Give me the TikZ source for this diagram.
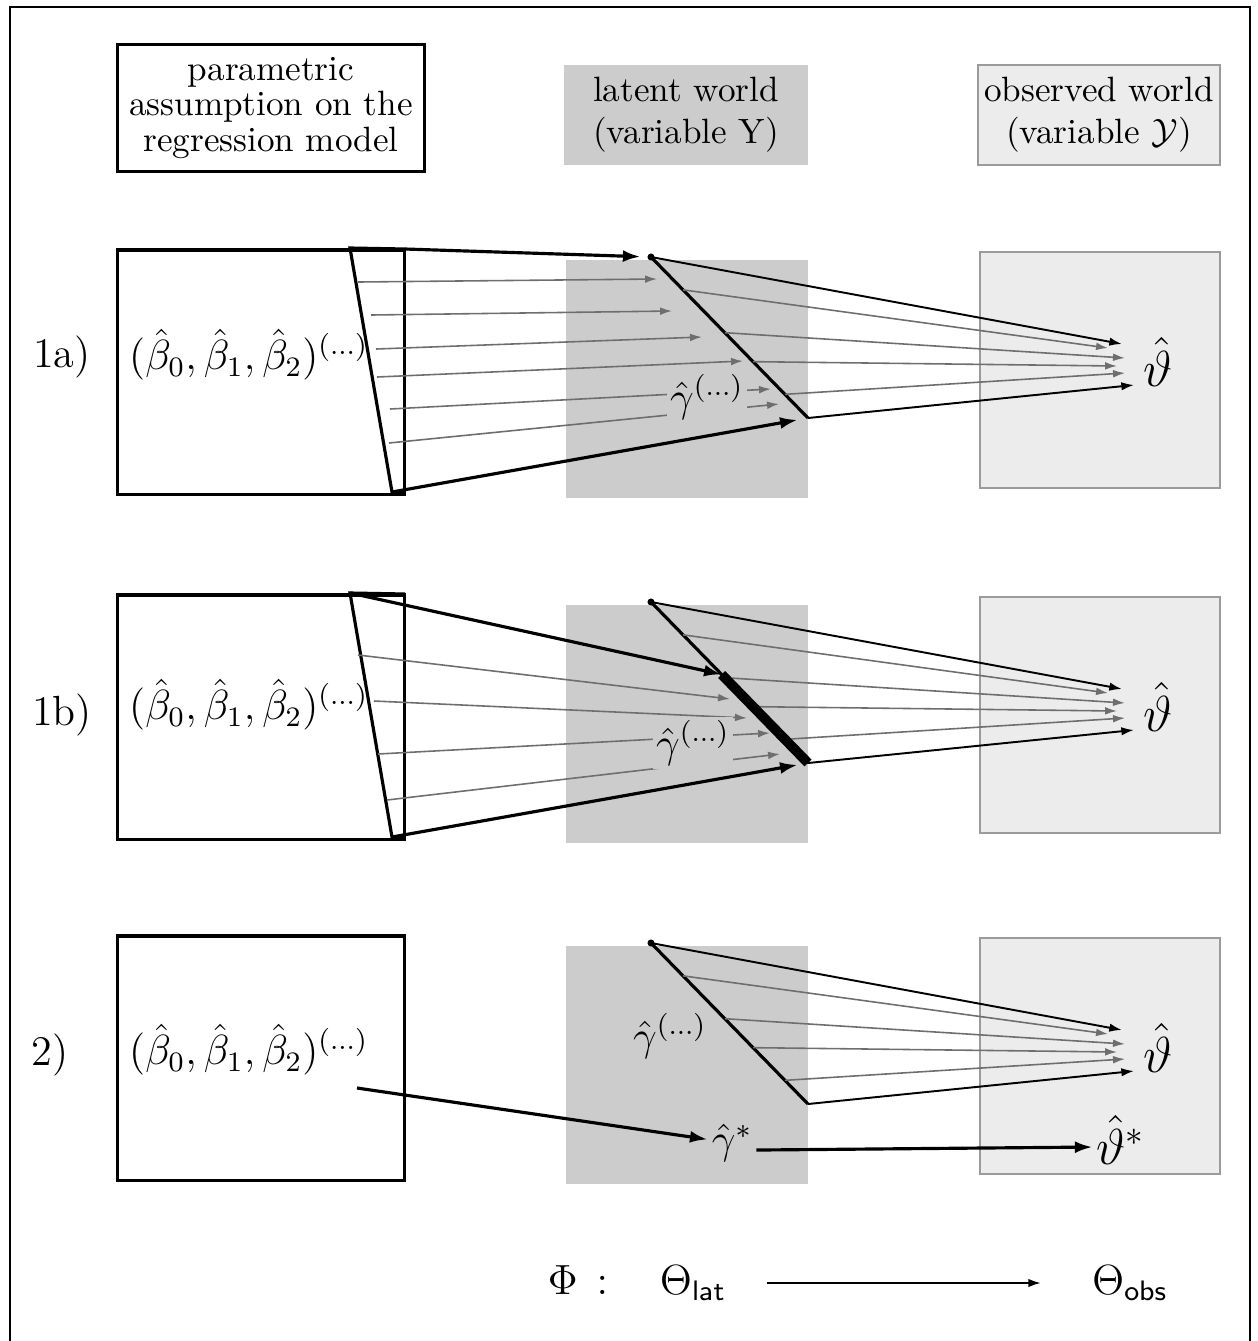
\documentclass[tikz,border=0pt]{standalone}
\usepackage{amsmath}
\usepackage{amssymb}
\usepackage{xcolor}
\usepackage{tikz}
\usetikzlibrary{arrows.meta,positioning,calc}
\definecolor{latgray}{RGB}{204,204,204}
\definecolor{obsgray}{RGB}{236,236,236}
\definecolor{obsline}{RGB}{155,155,155}
\definecolor{raygray}{RGB}{110,110,110}
\newcommand{\etc}{(\ldotp\ldotp\ldotp)}
\newcommand{\bvec}{(\hat\beta_0,\hat\beta_1,\hat\beta_2)^{\etc}}

\begin{document}
\begin{tikzpicture}[
    x=0.01cm,y=-0.01cm,
    parambox/.style={draw,line width=0.9pt,minimum width=2.87cm,minimum height=2.44cm,inner sep=0pt},
    latbox/.style={fill=latgray,minimum width=2.41cm,minimum height=2.38cm,inner sep=0pt},
    obsbox/.style={fill=obsgray,draw=obsline,line width=0.5pt,minimum width=2.4cm,minimum height=2.36cm,inner sep=0pt},
    rowlab/.style={font=\large,inner sep=1pt},
    est/.style={font=\large,inner sep=1pt,anchor=west},
    glab/.style={font=\large,inner sep=1pt,fill=latgray},
    thlab/.style={font=\Large,inner sep=1pt},
    edge/.style={line width=0.9pt},
    ray/.style={-{Latex[length=3.4pt,width=2.2pt]},draw=raygray,line width=0.45pt},
    arrow/.style={-{Latex[length=3.6pt,width=2.4pt]},line width=0.55pt},
    bigarrow/.style={-{Latex[length=5pt,width=3.4pt]},line width=0.9pt}
  ]
    \useasboundingbox (0,0) rectangle (1258,1341);
    \draw[line width=0.6pt] (10,7) rectangle (1250,1360);

    % header
    \node[draw,line width=0.9pt,minimum width=3.06cm,minimum height=1.27cm,align=center,inner sep=1pt,
          font=\fontsize{10}{10}\selectfont] (hpar) at (271,108) {parametric\\assumption on the\\regression model};
    \node[fill=latgray,minimum width=2.43cm,minimum height=1cm,align=center] (hlat) at (686,115) {latent world\\(variable Y)};
    \node[fill=obsgray,draw=obsline,line width=0.5pt,minimum width=2.42cm,minimum height=1cm,align=center,inner sep=1pt] (hobs) at (1099,115) {observed world\\(variable $\mathcal{Y}$)};

    % latent and observed worlds, one per row
    \foreach \r/\off in {a/0,b/345,c/686}{
      \begin{scope}[shift={(0,\off)}]
        \node[latbox] (lat\r) at (687,379) {};
        \node[obsbox] (obs\r) at (1100,370) {};
        \node[thlab] (th\r) at (1158,362) {$\hat{\vartheta}$};
        \coordinate (top\r) at (651,257);
        \coordinate (bot\r) at (808,418);
        \draw[edge] (top\r) -- (bot\r);
        \fill (top\r) circle[radius=1pt];
        \coordinate (u\r) at (1122,344);
        \coordinate (w\r) at (1134,385);
        \draw[arrow] (top\r) -- (u\r);
        \draw[arrow] (bot\r) -- (w\r);
        \foreach \t/\ex/\ey [count=\k] in {0.204/1108/348,0.47/1125/358,0.65/1117/366,0.853/1125/373}{
          \coordinate (f\k\r) at ($(top\r)!\t!(bot\r)$);
          \coordinate (g\k\r) at (\ex,\ey);
          \draw[ray] (f\k\r) -- (g\k\r);
        }
      \end{scope}
    }

    % row 1a
    \node[parambox] (pa) at (261,372) {};
    \node[est] (ea) at (125,355) {$\bvec$};
    \node[rowlab] (la) at (62,357) {1a)};
    \coordinate (tza1) at (350,248);
    \coordinate (tza2) at (405,249);
    \coordinate (tza3) at (392,492);
    \coordinate (tza4) at (405,492);
    \draw[edge] (tza2) -- (tza1) -- (tza3) -- (tza4);
    \foreach \sx/\sy/\ex/\ey [count=\k] in {358/282/657/279,371/315/672/311,376/349/702/337,377/377/743/361,390/409/771/389,389/443/779/404}{
      \coordinate (sa\k) at (\sx,\sy);
      \coordinate (ta\k) at (\ex,\ey);
      \draw[ray] (sa\k) -- (ta\k);
    }
    \node[glab] (ga) at (707,397) {$\hat{\gamma}^{\etc}$};
    \draw[bigarrow,shorten >=3pt] (tza2) -- (topa);
    \draw[bigarrow,shorten >=3pt] (tza3) -- (bota);

    % row 1b
    \begin{scope}[shift={(0,345)}]
      \node[parambox] (pb) at (261,372) {};
      \node[est] (eb) at (125,360) {$\bvec$};
      \node[rowlab] (lb) at (62,370) {1b)};
      \coordinate (tzb1) at (350,248);
      \coordinate (tzb2) at (405,249);
      \coordinate (tzb3) at (392,492);
      \coordinate (tzb4) at (405,492);
      \draw[edge] (tzb2) -- (tzb1) -- (tzb3) -- (tzb4);
      \foreach \sx/\sy/\ex/\ey [count=\k] in {358/310/730/354,374/356/747/373,378/409/770/388,387/455/780/409}{
        \coordinate (sb\k) at (\sx,\sy);
        \coordinate (tb\k) at (\ex,\ey);
        \draw[ray] (sb\k) -- (tb\k);
      }
      \node[glab] (gb) at (693,398) {$\hat{\gamma}^{\etc}$};
      \coordinate (segb) at ($(topb)!0.45!(botb)$);
      \draw[line width=2.8pt] (segb) -- (botb);
      \draw[bigarrow] (tzb1) -- (segb);
      \draw[bigarrow,shorten >=3pt] (tzb3) -- (botb);
    \end{scope}

    % row 2
    \begin{scope}[shift={(0,686)}]
      \node[parambox] (pc) at (261,372) {};
      \node[est] (ec) at (125,364) {$\bvec$};
      \node[rowlab] (lc) at (50,369) {2)};
      \node[font=\large,inner sep=1pt] (gc) at (670,350) {$\hat{\gamma}^{\etc}$};
      \node[font=\large,inner sep=1pt] (gstar) at (732,457) {$\hat{\gamma}^*$};
      \node[thlab] (thstar) at (1121,454) {$\hat{\vartheta}^*$};
      \coordinate (oc) at (357,402);
      \draw[bigarrow] (oc) -- (gstar);
      \draw[bigarrow] ([yshift=-2pt]gstar.east) -- ([yshift=-2pt]thstar.west);
    \end{scope}

    % map between parameter spaces
    \node[font=\large] (phi) at (578,1280) {$\Phi\,:$};
    \node[font=\large] (tlat) at (693,1283) {$\Theta_{\mathsf{lat}}$};
    \node[font=\large] (tobs) at (1130,1283) {$\Theta_{\mathsf{obs}}$};
    \draw[arrow,shorten <=8pt,shorten >=11pt] (tlat.east) -- (tobs.west);
\end{tikzpicture}
\end{document}
